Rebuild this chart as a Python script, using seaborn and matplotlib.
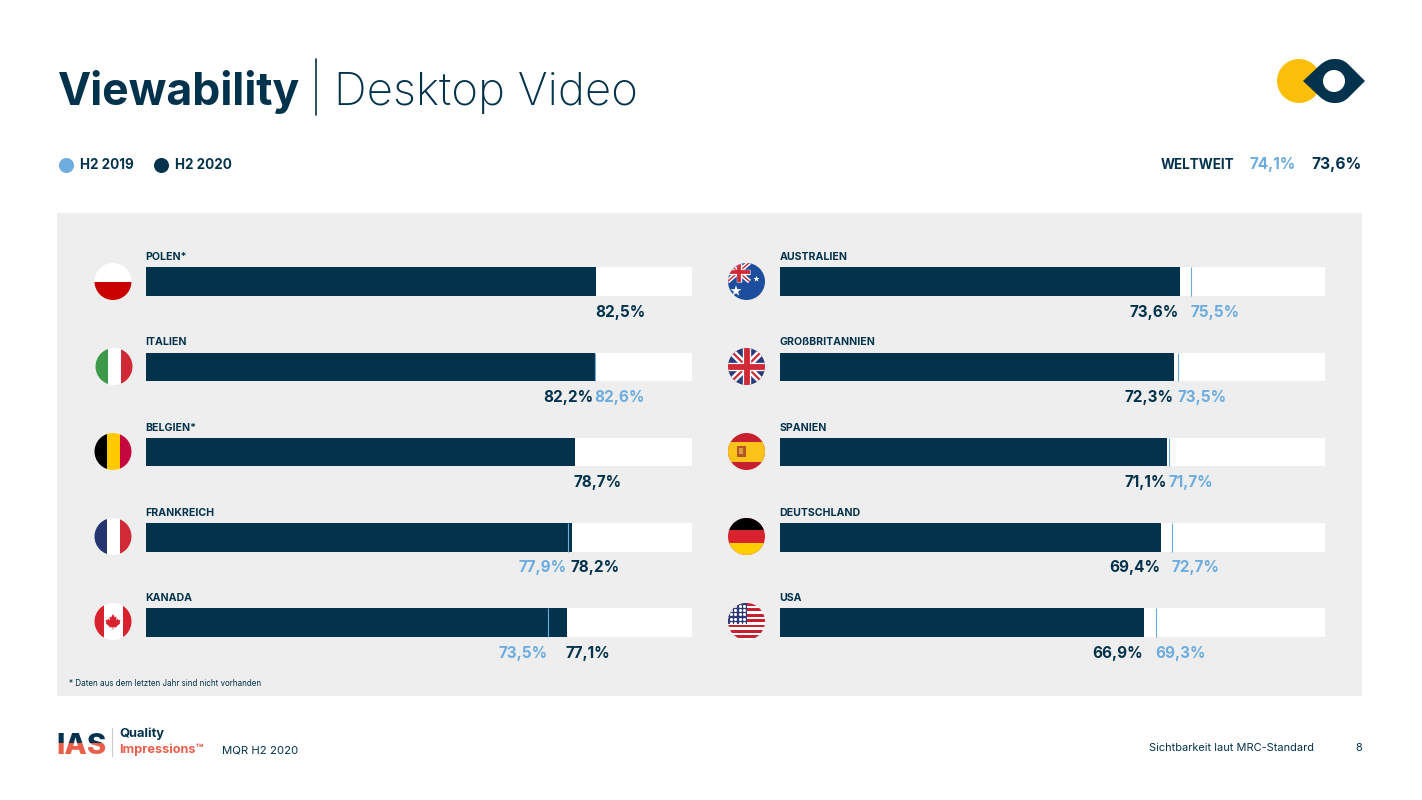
# viewability desktop video - two bar panels
import numpy as np
import pandas as pd
import seaborn as sns
import matplotlib.pyplot as plt
from matplotlib.patches import Circle, Rectangle, PathPatch, Polygon
from matplotlib.path import Path

sns.set_style('white')
plt.rcParams['font.family'] = ['Inter', 'DejaVu Sans']

# data: printed labels
laender_links = ['POLEN*', 'ITALIEN', 'BELGIEN*', 'FRANKREICH', 'KANADA']
label_2020_links = [82.5, 82.2, 78.7, 78.2, 77.1]
label_2019_links = [np.nan, 82.6, np.nan, 77.9, 73.5]

laender_rechts = ['AUSTRALIEN', 'GROßBRITANNIEN', 'SPANIEN', 'DEUTSCHLAND', 'USA']
label_2020_rechts = [73.6, 72.3, 71.1, 69.4, 66.9]
label_2019_rechts = [75.5, 73.5, 71.7, 72.7, 69.3]

# data: lengths as actually drawn in the picture (they differ a bit from the labels)
balken_links = [82.5, 82.2, 78.5, 78.0, 77.1]
strich_links = [np.nan, 82.3, np.nan, 77.3, 73.7]
balken_rechts = [73.4, 72.3, 71.1, 70.0, 66.8]
strich_rechts = [75.5, 73.1, 71.4, 72.0, 69.0]

weltweit_2019 = 74.1
weltweit_2020 = 73.6

DUNKEL = '#03324C'
HELL = '#6CACDE'
GRAU = '#EEEEEE'
ROT = '#E8604C'

W, H = 1422, 800


def pct(v):
    return f'{v:.1f}'.replace('.', ',') + '%'


fig = plt.figure(figsize=(W / 100, H / 100), dpi=100, facecolor='white')

# background axes in pixels for panel, header, footer and flags
bg = fig.add_axes([0, 0, 1, 1], zorder=0)
bg.set_xlim(0, W)
bg.set_ylim(H, 0)
bg.axis('off')

bg.add_patch(Rectangle((57, 213), 1305, 483, fc=GRAU, ec='none'))

# header
bg.text(57.5, 105.5, 'Viewability', fontsize=32, fontweight='bold', color=DUNKEL, va='baseline')
bg.plot([316, 316], [59, 115], color=DUNKEL, lw=1.2)
bg.text(334.5, 105.5, 'Desktop Video', fontsize=32.8, fontweight='light', color=DUNKEL, va='baseline')

bg.scatter([66], [165], s=117, color=HELL, linewidths=0)
bg.scatter([161], [165], s=117, color=DUNKEL, linewidths=0)
bg.text(80, 165, 'H2 2019', fontsize=9.7, fontweight='bold', color=DUNKEL, va='center')
bg.text(175, 165, 'H2 2020', fontsize=9.7, fontweight='bold', color=DUNKEL, va='center')

bg.text(1234, 165, 'WELTWEIT', fontsize=9.7, fontweight='bold', color=DUNKEL, va='center', ha='right')
bg.text(1296, 165, pct(weltweit_2019), fontsize=11, fontweight='bold', color=HELL, va='center', ha='right')
bg.text(1362, 165, pct(weltweit_2020), fontsize=11.2, fontweight='bold', color=DUNKEL, va='center', ha='right')

# eye logo
bg.add_patch(Circle((1299, 81), 22, fc='#FBBF0A', ec='none'))
auge = Path(
    [(1303, 81), (1320, 65), (1326, 60), (1330, 59), (1335, 59), (1340, 59), (1344, 60), (1349, 65),
     (1365, 81), (1349, 97), (1344, 102), (1340, 103), (1335, 103), (1330, 103), (1326, 102), (1320, 97),
     (1303, 81)],
    [Path.MOVETO, Path.LINETO, Path.CURVE4, Path.CURVE4, Path.CURVE4, Path.CURVE4, Path.CURVE4, Path.CURVE4,
     Path.LINETO, Path.LINETO, Path.CURVE4, Path.CURVE4, Path.CURVE4, Path.CURVE4, Path.CURVE4, Path.CURVE4,
     Path.CLOSEPOLY])
bg.add_patch(PathPatch(auge, fc=DUNKEL, ec='none'))
bg.add_patch(Circle((1334, 81), 11, fc='white', ec='none'))

# footer
bg.text(69, 683, '* Daten aus dem letzten Jahr sind nicht vorhanden', fontsize=5.8, color=DUNKEL, va='center')

ias_oben = bg.text(56, 754, 'IAS', fontsize=21, fontweight='heavy', color=DUNKEL, va='baseline', clip_on=True)
ias_unten = bg.text(56, 754, 'IAS', fontsize=21, fontweight='heavy', color=ROT, va='baseline', clip_on=True)
ias_oben.set_clip_path(Rectangle((50, 720), 70, 23, transform=bg.transData))
ias_unten.set_clip_path(Rectangle((50, 743), 70, 20, transform=bg.transData))
bg.plot([112, 112], [728, 756], color='#CCCCCC', lw=0.8)
bg.text(119.5, 734, 'Quality', fontsize=9.3, fontweight='bold', color=DUNKEL, va='center')
bg.text(119.5, 749.5, 'Impressions™', fontsize=9.2, fontweight='bold', color=ROT, va='center')
bg.text(222, 750, 'MQR H2 2020', fontsize=8.2, color=DUNKEL, va='center')
bg.text(1314, 748, 'Sichtbarkeit laut MRC-Standard', fontsize=7.9, color=DUNKEL, va='center', ha='right')
bg.text(1362, 748, '8', fontsize=7.9, color=DUNKEL, va='center', ha='right')


# flag helpers, everything clipped to the round badge
def kreis(cx, cy, farbe='white'):
    c = Circle((cx, cy), 18.5, fc=farbe, ec='none')
    bg.add_patch(c)
    return c


def feld(c, x0, y0, w, h, farbe):
    cx, cy = c.center
    r = Rectangle((cx + x0, cy + y0), w, h, fc=farbe, ec='none')
    bg.add_patch(r)
    r.set_clip_path(c)


def strich(c, xs, ys, farbe, lw):
    cx, cy = c.center
    ln, = bg.plot(np.array(xs) + cx, np.array(ys) + cy, color=farbe, lw=lw, solid_capstyle='butt')
    ln.set_clip_path(c)


def union_jack(c, x0, x1, y0, y1, s=1.0):
    mx, my = (x0 + x1) / 2, (y0 + y1) / 2
    for a, b in [((x0, y0), (x1, y1)), ((x0, y1), (x1, y0))]:
        strich(c, [a[0], b[0]], [a[1], b[1]], 'white', 5 * s)
        strich(c, [a[0], b[0]], [a[1], b[1]], '#CF2A36', 1.6 * s)
    strich(c, [x0, x1], [my, my], 'white', 6 * s)
    strich(c, [mx, mx], [y0, y1], 'white', 6 * s)
    strich(c, [x0, x1], [my, my], '#CF2A36', 4.2 * s)
    strich(c, [mx, mx], [y0, y1], '#CF2A36', 4.2 * s)


# left flags
c = kreis(113, 281.5)
feld(c, -19, 0, 38, 19, '#C80000')

c = kreis(114, 366.5)
feld(c, -19, -19, 12.5, 38, '#3E9A4A')
feld(c, 7, -19, 12, 38, '#CF2A36')

c = kreis(113, 451.5)
feld(c, -19, -19, 12.5, 38, '#000000')
feld(c, -6.5, -19, 14.5, 38, '#FFCB00')
feld(c, 7, -19, 12, 38, '#C4073F')

c = kreis(113, 536.5)
feld(c, -19, -19, 12.5, 38, '#24356F')
feld(c, 7, -19, 12, 38, '#CF2A36')

c = kreis(113, 621.5)
feld(c, -19, -19, 9.5, 38, '#D8232F')
feld(c, 10, -19, 9, 38, '#D8232F')
blatt = np.array([(0, -7.5), (2, -4), (3.6, -5), (3, -1), (5, -3), (5.6, -1.2), (7.5, -1.6), (6.6, 1.4),
                  (7.2, 2), (3.4, 5), (3.8, 6), (0.4, 5.6), (0.4, 8), (-0.4, 8), (-0.4, 5.6), (-3.8, 6),
                  (-3.4, 5), (-7.2, 2), (-6.6, 1.4), (-7.5, -1.6), (-5.6, -1.2), (-5, -3), (-3, -1),
                  (-3.6, -5), (-2, -4)])
bg.add_patch(Polygon(blatt + np.array([113, 621.5]), fc='#D8232F', ec='none'))

# right flags
c = kreis(746.5, 281.5, '#1D4E9E')
union_jack(c, -19, 3, -19, 0, 0.65)
bg.scatter([746.5 - 10.5, 746.5 + 10], [281.5 + 9.5, 281.5 - 2.5], s=[70, 22], marker='*', color='white', linewidths=0)

c = kreis(746.5, 366.5, '#2B3A7A')
union_jack(c, -19, 19, -19, 19)

c = kreis(746.5, 451.5, '#C8202F')
feld(c, -19, -10, 38, 20, '#FBC21A')
feld(c, -10, -6, 9, 11, '#B5532A')
feld(c, -7.5, -4, 4, 6, '#D9A03A')

c = kreis(746.5, 536.5, '#D8232F')
feld(c, -19, -19, 38, 12.5, '#000000')
feld(c, -19, 6.5, 38, 13, '#FFCE00')

c = kreis(746.5, 621.5)
for k in range(7):
    feld(c, -19, -18.5 + k * 5.4, 38, 2.8, '#C8202F')
feld(c, -19, -19, 19, 21.5, '#2B3A7A')
sx, sy = np.meshgrid(np.arange(-16, 0, 4.6), np.arange(-16, 2, 4.4))
sterne = bg.scatter(746.5 + sx.ravel(), 621.5 + sy.ravel(), s=5, color='white', linewidths=0)
sterne.set_clip_path(c)

bg.set_xlim(0, W)
bg.set_ylim(H, 0)


# one bar panel
def balken(x_px, breite_px, laender, label_2020, label_2019, werte_2020, werte_2019):
    df = pd.DataFrame({'land': laender, 'label_2020': label_2020, 'label_2019': label_2019,
                       'h2_2020': werte_2020, 'h2_2019': werte_2019, 'voll': 100})
    oben, hoehe = 239, 426.25
    ax = fig.add_axes([x_px / W, 1 - (oben + hoehe) / H, breite_px / W, hoehe / H], zorder=1)
    ax.patch.set_alpha(0)
    sns.barplot(data=df, y='land', x='voll', color='white', saturation=1, width=0.335, linewidth=0, ax=ax)
    sns.barplot(data=df, y='land', x='h2_2020', color=DUNKEL, saturation=1, width=0.335, linewidth=0, ax=ax)
    ax.vlines(df['h2_2019'], df.index - 0.1675, df.index + 0.1675, color=HELL, lw=0.8)
    ax.set_xlim(0, 100)
    ax.set_ylim(4.5, -0.5)
    ax.axis('off')

    for i, row in df.iterrows():
        ax.annotate(row['land'], xy=(0, i), xytext=(-0.5, 24.5), textcoords='offset pixels',
                    fontsize=7.6, fontweight='bold', color=DUNKEL, va='center', annotation_clip=False)
        neu, alt = row['h2_2020'], row['h2_2019']
        # the higher value starts at its mark, the lower one ends at it
        neu_ha = 'right' if alt > neu else 'left'
        ax.annotate(pct(row['label_2020']), xy=(neu, i), xytext=(-1, -30.5), textcoords='offset pixels', ha=neu_ha,
                    fontsize=11, fontweight='bold', color=DUNKEL, va='center', annotation_clip=False)
        if not np.isnan(alt):
            alt_ha = 'left' if alt > neu else 'right'
            ax.annotate(pct(row['label_2019']), xy=(alt, i), xytext=(-1, -30.5), textcoords='offset pixels', ha=alt_ha,
                        fontsize=11, fontweight='bold', color=HELL, va='center', annotation_clip=False)


balken(146, 546, laender_links, label_2020_links, label_2019_links, balken_links, strich_links)
balken(780, 545, laender_rechts, label_2020_rechts, label_2019_rechts, balken_rechts, strich_rechts)

fig.savefig('out.png', dpi=100, facecolor='white')
